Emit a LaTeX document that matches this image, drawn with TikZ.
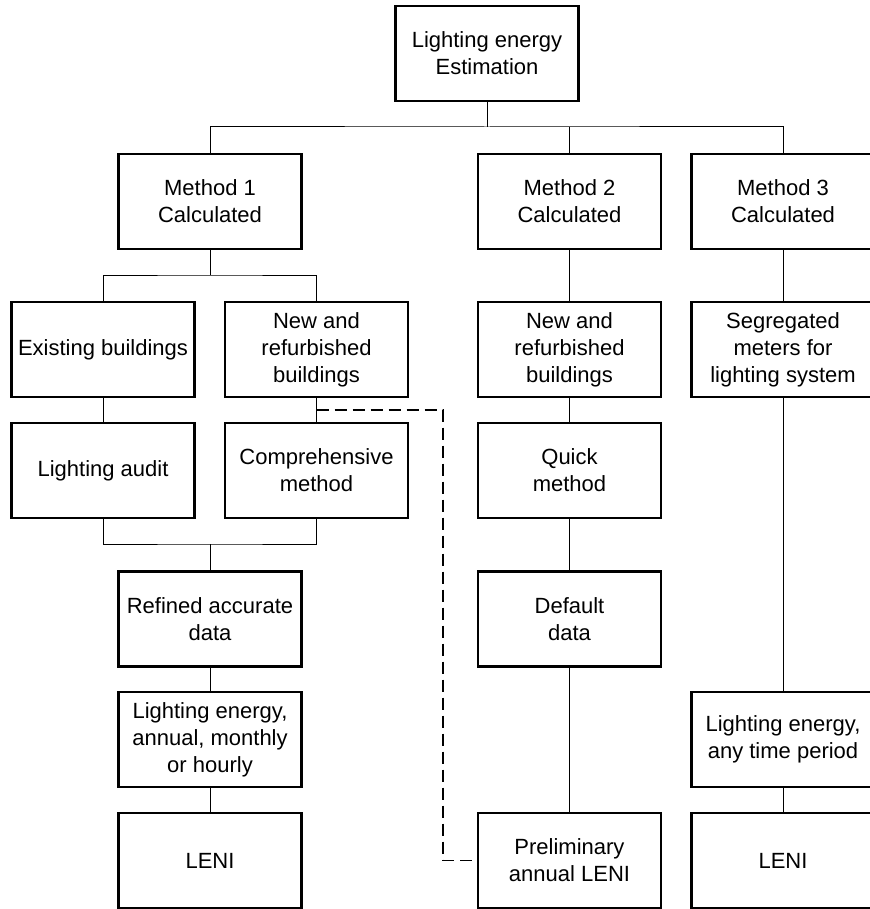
\documentclass[tikz,border=0pt]{standalone}
\usepackage{fontspec}
\setmainfont{Liberation Sans}
\usetikzlibrary{calc}

\begin{document}
\begin{tikzpicture} [x=.5pt, y=-.5pt,
  box/.style={draw, line width=1.1pt, minimum width=91.5pt, minimum height=47.5pt, inner sep=1pt, align=center, font=\fontsize{11}{13.5}\selectfont},
  link/.style={line width=.5pt}]
\clip (0,0) rectangle (870,909);
% boxes
\node[box] (est) at (487,53.5) {Lighting energy\\Estimation};
\node[box] (m1) at (210,201.5) {Method 1\\Calculated};
\node[box] (m2) at (569.5,201.5) {Method 2\\Calculated};
\node[box] (m3) at (783,201.5) {Method 3\\Calculated};
\node[box] (exist) at (103,349.5) {Existing buildings};
\node[box] (newa) at (316.5,349.5) {New and\\refurbished\\buildings};
\node[box] (newb) at (569.5,349.5) {New and\\refurbished\\buildings};
\node[box] (seg) at (783,349.5) {Segregated\\meters for\\lighting system};
\node[box] (audit) at (103,470.5) {Lighting audit};
\node[box] (comp) at (316.5,470.5) {Comprehensive\\method};
\node[box] (quick) at (569.5,470.5) {Quick\\method};
\node[box] (refined) at (210,619) {Refined accurate\\data};
\node[box] (default) at (569.5,619) {Default\\data};
\node[box] (enera) at (210,739.5) {Lighting energy,\\annual, monthly\\or hourly};
\node[box] (enerb) at (783,739.5) {Lighting energy,\\any time period};
\node[box] (lenia) at (210,860.5) {LENI};
\node[box] (prelim) at (569.5,860.5) {Preliminary\\annual LENI};
\node[box] (lenib) at (783,860.5) {LENI};
% junctions
\coordinate (j0) at (487,127);
\coordinate (j1) at (210,275);
\coordinate (j2) at (210,544);
\coordinate (d1) at (316.5,410);
\coordinate (d2) at (443,410);
% connectors
\draw[link] (est.south) -- (j0);
\draw[link] (m1.north) |- (j0) -| (m3.north);
\draw[link] (m2.north) -- (m2.north |- j0);
\draw[link] (m1.south) -- (j1);
\draw[link] (exist.north) |- (j1) -| (newa.north);
\draw[link] (audit.south) |- (j2) -| (comp.south);
\draw[link] (j2) -- (refined.north);
\foreach \a/\b in {exist/audit, newa/comp, refined/enera, enera/lenia, m2/newb, newb/quick, quick/default, default/prelim, m3/seg, seg/enerb, enerb/lenib}
 \draw[link] (\a.south) -- (\b.north);
\draw[line width=.8pt, dash pattern=on 6pt off 3pt] (d1) -- (d2) |- (prelim.west);
\end{tikzpicture}
\end{document}
